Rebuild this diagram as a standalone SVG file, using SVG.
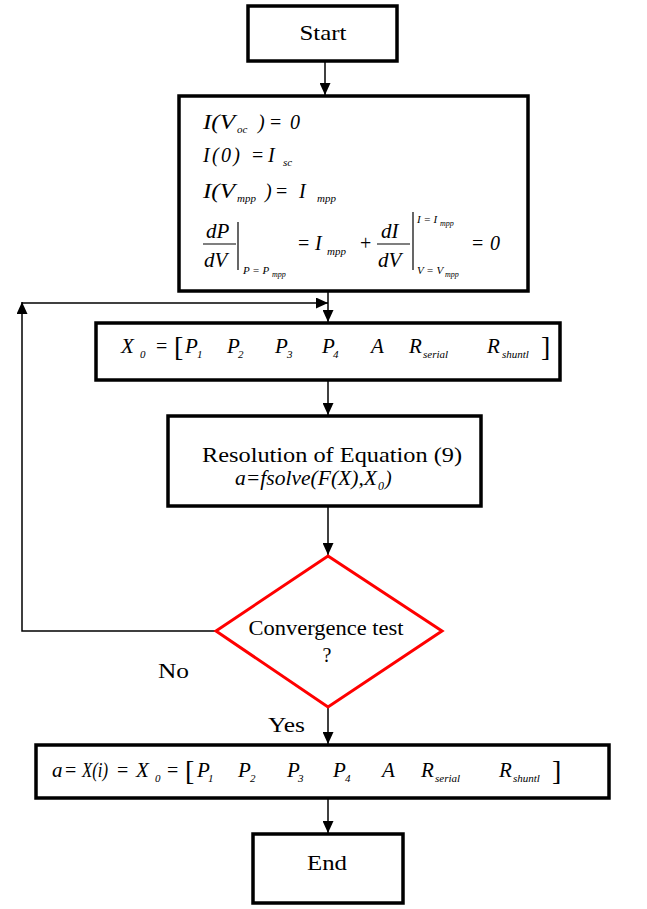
<svg xmlns="http://www.w3.org/2000/svg" width="647" height="909" viewBox="0 0 647 909">
<defs>
<style>
.box{fill:#fff;stroke:#000;stroke-width:3.5}
.dia{fill:#fff;stroke:#f00;stroke-width:3}
.conn{fill:none;stroke:#000;stroke-width:1.5}
.ml{fill:none;stroke:#000;stroke-width:1.2}
.t{font-family:"Liberation Serif","Times New Roman",serif;font-size:21px;fill:#000}
.m{font-family:"Liberation Serif","Times New Roman",serif;font-style:italic;font-size:20px;fill:#000}
.m21{font-size:21px}
.u{font-family:"Liberation Serif","Times New Roman",serif;font-size:20px;fill:#000}
.s{font-family:"Liberation Serif","Times New Roman",serif;font-style:italic;font-size:11px;fill:#000}
.ss{font-size:8px}
.br{font-family:"Liberation Serif","Times New Roman",serif;font-size:28px;fill:#000}
</style>
<marker id="ah" markerUnits="userSpaceOnUse" markerWidth="12" markerHeight="11" refX="12" refY="5.5" orient="auto">
<path d="M0,0 L12,5.5 L0,11 z" fill="#000"/>
</marker>
</defs>
<rect width="647" height="909" fill="#fff"/>

<g id="connectors">
<line class="conn" x1="325" y1="61" x2="325" y2="95" marker-end="url(#ah)"/>
<line class="conn" x1="328" y1="291" x2="328" y2="322" marker-end="url(#ah)"/>
<path class="conn" d="M217,631 H22 V302" marker-end="url(#ah)"/>
<line class="conn" x1="22" y1="303" x2="328" y2="303" marker-end="url(#ah)"/>
<line class="conn" x1="328" y1="380" x2="328" y2="415" marker-end="url(#ah)"/>
<line class="conn" x1="328" y1="506" x2="328" y2="555" marker-end="url(#ah)"/>
<line class="conn" x1="328" y1="707" x2="328" y2="744" marker-end="url(#ah)"/>
<line class="conn" x1="328" y1="798" x2="328" y2="833" marker-end="url(#ah)"/>
<text class="t" x="158" y="678" textLength="31" lengthAdjust="spacingAndGlyphs">No</text>
<text class="t" x="268" y="732" textLength="37" lengthAdjust="spacingAndGlyphs">Yes</text>
</g>

<g id="start">
<rect class="box" x="248" y="6" width="149" height="55"/>
<text class="t" x="323" y="40" text-anchor="middle" style="font-size:22px" textLength="47" lengthAdjust="spacingAndGlyphs">Start</text>
</g>

<g id="conditions">
<rect class="box" x="179" y="96" width="349" height="195"/>
<text class="m" x="203" y="129" textLength="32" lengthAdjust="spacingAndGlyphs">I(V</text>
<text class="s" x="237" y="133">oc</text>
<text class="m" x="258" y="129">)</text>
<text class="u" x="270" y="129">=</text>
<text class="m" x="290" y="129">0</text>

<text class="m" x="203" y="162" textLength="37" lengthAdjust="spacing">I(0)</text>
<text class="u" x="252" y="162">=</text>
<text class="m" x="268" y="162">I</text>
<text class="s" x="283" y="166">sc</text>

<text class="m" x="203" y="198" textLength="32" lengthAdjust="spacingAndGlyphs">I(V</text>
<text class="s" x="237" y="202">mpp</text>
<text class="m" x="265" y="198">)</text>
<text class="u" x="276" y="198">=</text>
<text class="m" x="299" y="198">I</text>
<text class="s" x="317" y="202">mpp</text>

<text class="m m21" x="206" y="238">dP</text>
<line class="ml" x1="203" y1="244" x2="236" y2="244"/>
<text class="m m21" x="204" y="267">dV</text>
<line class="ml" x1="238" y1="222" x2="238" y2="270"/>
<text class="s" x="243" y="274">P = P</text>
<text class="s ss" x="272" y="277">mpp</text>
<text class="u" x="298" y="250">=</text>
<text class="m" x="315" y="250">I</text>
<text class="s" x="327" y="255">mpp</text>
<text class="u" x="360" y="250">+</text>
<text class="m m21" x="381" y="238">dI</text>
<line class="ml" x1="377" y1="244" x2="410" y2="244"/>
<text class="m m21" x="378" y="267">dV</text>
<line class="ml" x1="413" y1="212" x2="413" y2="270"/>
<text class="s" x="417" y="223">I = I</text>
<text class="s ss" x="440" y="226">mpp</text>
<text class="s" x="417" y="274">V = V</text>
<text class="s ss" x="445" y="277">mpp</text>
<text class="u" x="472" y="250">=</text>
<text class="m" x="490" y="250">0</text>
</g>

<g id="init">
<rect class="box" x="96" y="323" width="464" height="57"/>
<text class="m m21" x="121" y="353">X</text>
<text class="s" x="140" y="358">0</text>
<text class="u" x="156" y="353">=</text>
<text class="br" x="174" y="356">[</text>
<text class="m m21" x="185" y="353">P</text>
<text class="s" x="197" y="358">1</text>
<text class="m m21" x="227" y="353">P</text>
<text class="s" x="238" y="358">2</text>
<text class="m m21" x="275" y="353">P</text>
<text class="s" x="287" y="358">3</text>
<text class="m m21" x="322" y="353">P</text>
<text class="s" x="333" y="358">4</text>
<text class="m m21" x="371" y="353">A</text>
<text class="m m21" x="409" y="353">R</text>
<text class="s" x="423" y="358">serial</text>
<text class="m m21" x="487" y="353">R</text>
<text class="s" x="502" y="358">shuntl</text>
<text class="br" x="541" y="356">]</text>
</g>

<g id="resolution">
<rect class="box" x="168" y="416" width="313" height="90"/>
<text class="t" x="202" y="462" textLength="260" lengthAdjust="spacingAndGlyphs">Resolution of Equation (9)</text>
<text class="m" x="235" y="485" textLength="142" lengthAdjust="spacingAndGlyphs">a=fsolve(F(X),X</text>
<text class="s" x="378" y="490" style="font-size:12px">0</text>
<text class="m" x="385" y="485">)</text>
</g>

<g id="convergence">
<polygon class="dia" points="328,556 442,631 328,707 216,631"/>
<text class="u" x="326" y="635" text-anchor="middle" textLength="155" lengthAdjust="spacingAndGlyphs">Convergence test</text>
<text class="u" x="327" y="662" text-anchor="middle">?</text>
</g>

<g id="result">
<rect class="box" x="36" y="745" width="573" height="53"/>
<text class="m m21" x="52" y="777">a</text>
<text class="u" x="65" y="777">=</text>
<text class="m m21" x="82" y="777" textLength="26" lengthAdjust="spacingAndGlyphs">X(i)</text>
<text class="u" x="117" y="777">=</text>
<text class="m m21" x="136" y="777">X</text>
<text class="s" x="155" y="782">0</text>
<text class="u" x="167" y="777">=</text>
<text class="br" x="185" y="780">[</text>
<text class="m m21" x="197" y="777">P</text>
<text class="s" x="208" y="782">1</text>
<text class="m m21" x="238" y="777">P</text>
<text class="s" x="250" y="782">2</text>
<text class="m m21" x="287" y="777">P</text>
<text class="s" x="298" y="782">3</text>
<text class="m m21" x="333" y="777">P</text>
<text class="s" x="345" y="782">4</text>
<text class="m m21" x="382" y="777">A</text>
<text class="m m21" x="421" y="777">R</text>
<text class="s" x="435" y="782">serial</text>
<text class="m m21" x="499" y="777">R</text>
<text class="s" x="513" y="782">shuntl</text>
<text class="br" x="552" y="780">]</text>
</g>

<g id="end">
<rect class="box" x="253" y="834" width="150" height="69"/>
<text class="t" x="327" y="870" text-anchor="middle" style="font-size:22px" textLength="40" lengthAdjust="spacingAndGlyphs">End</text>
</g>
</svg>
